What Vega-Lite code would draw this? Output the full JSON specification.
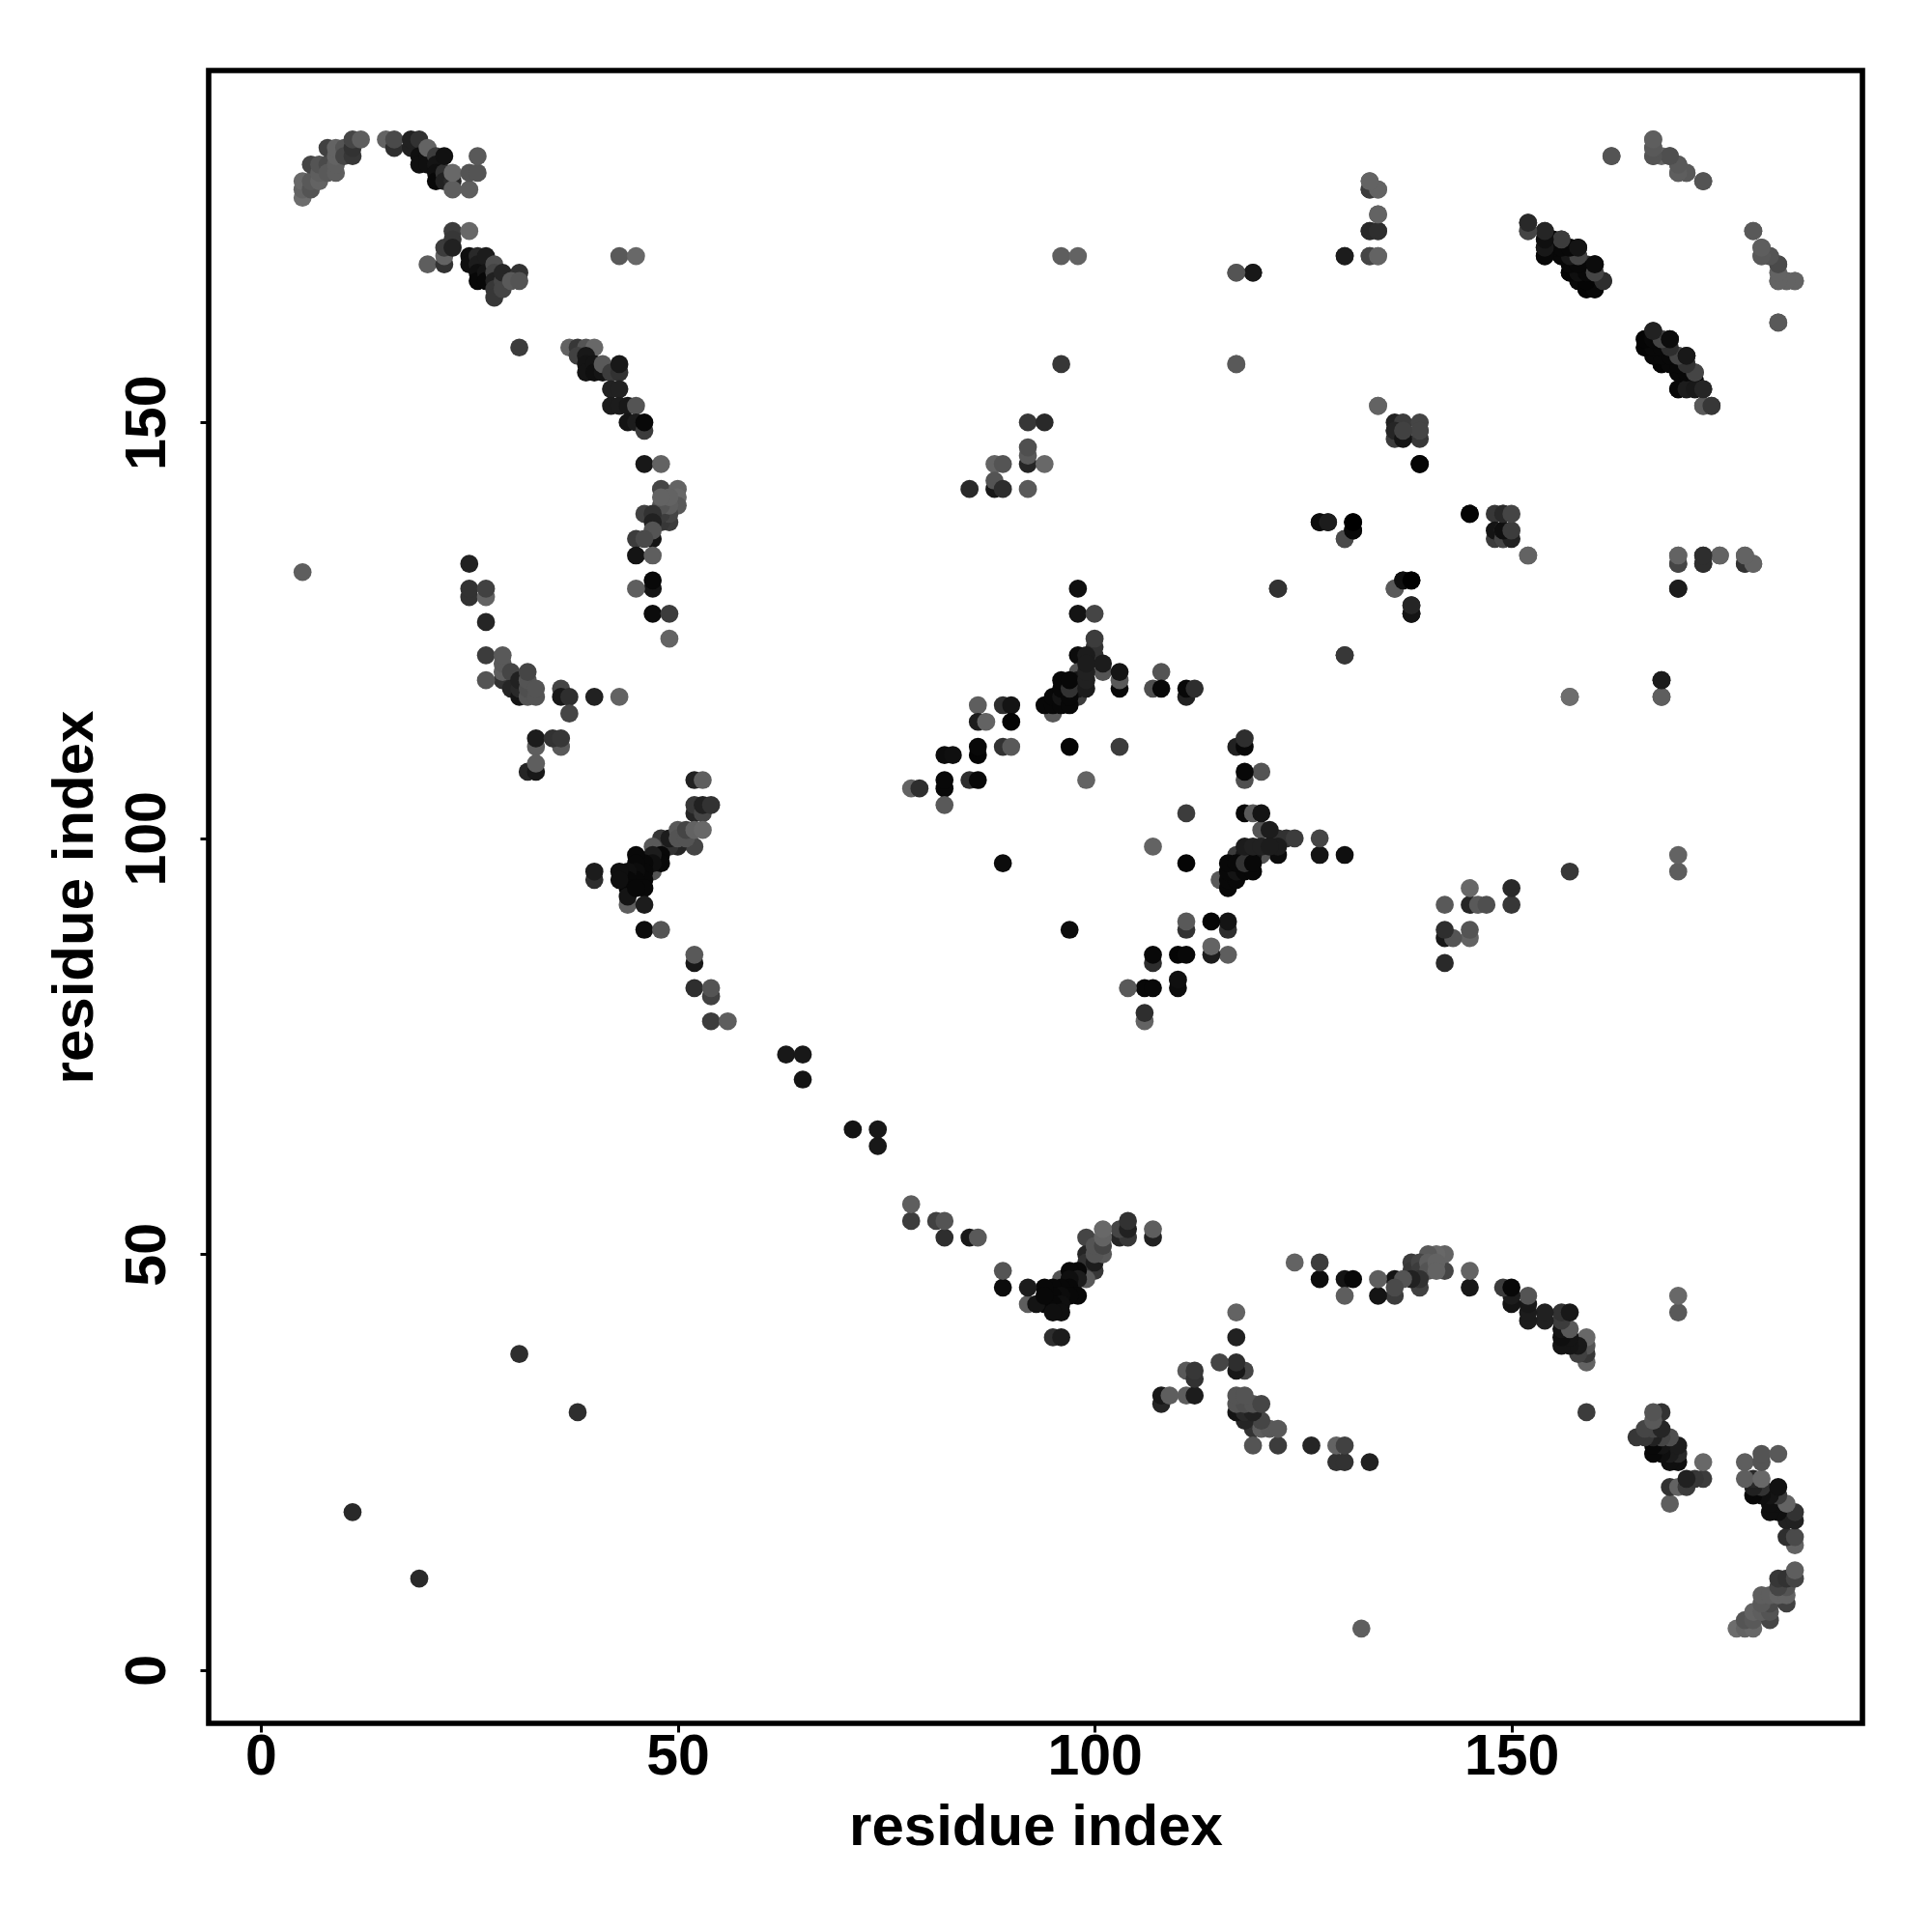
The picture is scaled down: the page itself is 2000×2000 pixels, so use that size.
{"$schema":"https://vega.github.io/schema/vega-lite/v6.json","width":1712,"height":1711,"autosize":{"type":"none"},"padding":{"left":216,"top":73,"right":72,"bottom":216},"background":"white","config":{"view":{"stroke":"black","strokeWidth":5.6},"axis":{"grid":false,"domain":false,"tickColor":"black","tickWidth":3,"tickSize":9,"labelFont":"Liberation Sans","labelFontWeight":"bold","labelFontSize":59,"labelColor":"black","titleFont":"Liberation Sans","titleFontWeight":"bold","titleFontSize":60,"titleColor":"black"}},
"data":{"values":[
{"i":5,"j":177,"s":110},{"i":5,"j":178,"s":100},{"i":5,"j":179,"s":105},{"i":6,"j":178,"s":85},{"i":6,"j":179,"s":90},{"i":6,"j":181,"s":70},{"i":7,"j":179,"s":100},{"i":7,"j":180,"s":95},{"i":7,"j":181,"s":85},{"i":8,"j":181,"s":75},{"i":8,"j":180,"s":90},{"i":8,"j":183,"s":65},{"i":9,"j":180,"s":95},{"i":9,"j":181,"s":95},{"i":9,"j":182,"s":100},{"i":9,"j":183,"s":100},{"i":10,"j":183,"s":85},{"i":10,"j":182,"s":70},{"i":11,"j":182,"s":55},{"i":11,"j":183,"s":50},{"i":11,"j":184,"s":70},{"i":12,"j":184,"s":95},
{"i":15,"j":184,"s":100},{"i":16,"j":183,"s":45},{"i":16,"j":184,"s":75},{"i":18,"j":183,"s":30},{"i":18,"j":184,"s":30},{"i":19,"j":184,"s":50},{"i":19,"j":182,"s":10},{"i":19,"j":181,"s":10},{"i":20,"j":182,"s":10},{"i":20,"j":181,"s":10},{"i":20,"j":183,"s":100},{"i":21,"j":182,"s":60},{"i":21,"j":181,"s":15},{"i":21,"j":180,"s":10},{"i":21,"j":179,"s":5},{"i":22,"j":180,"s":50},{"i":22,"j":179,"s":30},{"i":22,"j":182,"s":12},{"i":23,"j":179,"s":40},{"i":23,"j":178,"s":95},{"i":23,"j":180,"s":105},{"i":25,"j":178,"s":95},{"i":25,"j":180,"s":85},{"i":26,"j":180,"s":85},{"i":26,"j":182,"s":90},
{"i":20,"j":169,"s":95},{"i":22,"j":169,"s":50},{"i":22,"j":170,"s":100},{"i":22,"j":171,"s":60},{"i":23,"j":173,"s":60},{"i":23,"j":172,"s":55},{"i":23,"j":171,"s":30},{"i":25,"j":173,"s":105},{"i":25,"j":170,"s":10},{"i":25,"j":169,"s":10},{"i":26,"j":170,"s":40},{"i":26,"j":169,"s":25},{"i":26,"j":168,"s":10},{"i":26,"j":167,"s":5},{"i":27,"j":170,"s":25},{"i":27,"j":168,"s":15},{"i":27,"j":167,"s":5},{"i":28,"j":169,"s":80},{"i":28,"j":168,"s":70},{"i":28,"j":167,"s":30},{"i":28,"j":166,"s":55},{"i":28,"j":165,"s":55},{"i":29,"j":167,"s":70},{"i":29,"j":166,"s":70},{"i":29,"j":168,"s":35},{"i":31,"j":168,"s":50},{"i":30,"j":167,"s":90},{"i":31,"j":167,"s":85},
{"i":31,"j":159,"s":60},{"i":43,"j":170,"s":90},{"i":45,"j":170,"s":105},{"i":5,"j":132,"s":95},{"i":11,"j":19,"s":40},{"i":31,"j":38,"s":45},
{"i":37,"j":159,"s":100},{"i":38,"j":159,"s":55},{"i":39,"j":159,"s":85},{"i":40,"j":159,"s":105},{"i":38,"j":158,"s":65},{"i":39,"j":158,"s":20},{"i":39,"j":157,"s":15},{"i":39,"j":156,"s":15},{"i":40,"j":157,"s":15},{"i":40,"j":156,"s":10},{"i":41,"j":156,"s":15},{"i":41,"j":157,"s":90},{"i":42,"j":156,"s":60},{"i":43,"j":156,"s":50},{"i":43,"j":157,"s":20},{"i":42,"j":154,"s":30},{"i":43,"j":154,"s":30},{"i":42,"j":152,"s":25},{"i":43,"j":152,"s":25},{"i":44,"j":152,"s":20},{"i":45,"j":152,"s":85},{"i":44,"j":150,"s":15},{"i":45,"j":150,"s":25},{"i":46,"j":149,"s":60},{"i":46,"j":150,"s":5},{"i":46,"j":145,"s":20},{"i":48,"j":145,"s":100},
{"i":48,"j":142,"s":70},{"i":50,"j":142,"s":100},{"i":50,"j":141,"s":105},{"i":50,"j":140,"s":90},{"i":49,"j":138,"s":60},{"i":48,"j":138,"s":55},{"i":49,"j":139,"s":70},{"i":48,"j":139,"s":60},{"i":49,"j":140,"s":95},{"i":48,"j":140,"s":85},{"i":49,"j":141,"s":100},{"i":48,"j":141,"s":100},{"i":46,"j":139,"s":65},{"i":47,"j":139,"s":50},{"i":47,"j":138,"s":30},{"i":47,"j":136,"s":15},{"i":47,"j":137,"s":85},{"i":45,"j":136,"s":60},{"i":46,"j":136,"s":75},{"i":45,"j":134,"s":15},{"i":47,"j":134,"s":95},{"i":47,"j":130,"s":15},{"i":47,"j":131,"s":5},{"i":45,"j":130,"s":95},{"i":47,"j":127,"s":8},{"i":49,"j":127,"s":60},{"i":49,"j":124,"s":100},
{"i":25,"j":133,"s":30},{"i":25,"j":129,"s":50},{"i":25,"j":130,"s":50},{"i":27,"j":129,"s":100},{"i":27,"j":130,"s":65},{"i":27,"j":126,"s":35},{"i":27,"j":122,"s":60},{"i":29,"j":119,"s":50},{"i":29,"j":120,"s":95},{"i":29,"j":121,"s":90},{"i":29,"j":122,"s":90},{"i":30,"j":120,"s":70},{"i":27,"j":119,"s":85},{"i":30,"j":118,"s":35},{"i":31,"j":117,"s":15},{"i":31,"j":118,"s":40},{"i":31,"j":119,"s":30},{"i":32,"j":117,"s":85},{"i":32,"j":118,"s":80},{"i":32,"j":119,"s":85},{"i":32,"j":120,"s":70},{"i":33,"j":117,"s":85},{"i":33,"j":118,"s":85},{"i":36,"j":118,"s":70},{"i":36,"j":117,"s":20},{"i":37,"j":117,"s":45},{"i":37,"j":115,"s":70},{"i":40,"j":117,"s":30},{"i":43,"j":117,"s":100},
{"i":33,"j":111,"s":95},{"i":36,"j":111,"s":90},{"i":33,"j":112,"s":25},{"i":35,"j":112,"s":50},{"i":36,"j":112,"s":55},{"i":32,"j":108,"s":35},{"i":33,"j":108,"s":20},{"i":33,"j":109,"s":95},
{"i":52,"j":107,"s":30},{"i":53,"j":107,"s":95},{"i":52,"j":103,"s":35},{"i":52,"j":104,"s":55},{"i":53,"j":103,"s":70},{"i":53,"j":104,"s":30},{"i":54,"j":104,"s":50},{"i":52,"j":99,"s":70},{"i":50,"j":99,"s":35},{"i":49,"j":99,"s":50},{"i":48,"j":100,"s":55},{"i":49,"j":100,"s":25},{"i":50,"j":101,"s":90},{"i":50,"j":100,"s":85},{"i":51,"j":100,"s":85},{"i":51,"j":101,"s":70},{"i":52,"j":101,"s":100},{"i":53,"j":101,"s":105},
{"i":47,"j":99,"s":90},{"i":47,"j":96,"s":85},{"i":48,"j":98,"s":5},{"i":48,"j":97,"s":5},{"i":47,"j":98,"s":25},{"i":47,"j":97,"s":10},{"i":46,"j":97,"s":5},{"i":46,"j":96,"s":5},{"i":46,"j":95,"s":5},{"i":45,"j":98,"s":5},{"i":45,"j":97,"s":5},{"i":45,"j":96,"s":8},{"i":45,"j":95,"s":5},{"i":44,"j":92,"s":95},{"i":44,"j":96,"s":10},{"i":44,"j":95,"s":5},{"i":44,"j":94,"s":5},{"i":43,"j":96,"s":10},{"i":43,"j":95,"s":10},{"i":44,"j":93,"s":15},{"i":46,"j":94,"s":5},{"i":45,"j":94,"s":5},{"i":46,"j":92,"s":25},{"i":40,"j":95,"s":45},{"i":40,"j":96,"s":25},{"i":46,"j":89,"s":8},{"i":48,"j":89,"s":85},{"i":52,"j":85,"s":20},{"i":52,"j":86,"s":90},{"i":52,"j":82,"s":45},{"i":54,"j":81,"s":65},{"i":54,"j":82,"s":85},{"i":54,"j":78,"s":60},{"i":56,"j":78,"s":95},
{"i":63,"j":74,"s":20},{"i":65,"j":74,"s":20},{"i":65,"j":71,"s":15},
{"i":96,"j":170,"s":95},{"i":98,"j":170,"s":100},{"i":96,"j":157,"s":55},{"i":117,"j":168,"s":95},{"i":119,"j":168,"s":25},{"i":117,"j":157,"s":110},{"i":130,"j":170,"s":25},
{"i":92,"j":150,"s":55},{"i":94,"j":150,"s":40},{"i":92,"j":145,"s":35},{"i":92,"j":146,"s":90},{"i":92,"j":147,"s":80},{"i":94,"j":145,"s":105},{"i":88,"j":145,"s":100},{"i":89,"j":145,"s":85},{"i":88,"j":142,"s":20},{"i":88,"j":143,"s":85},{"i":89,"j":142,"s":45},{"i":85,"j":142,"s":40},{"i":92,"j":142,"s":90},
{"i":127,"j":138,"s":15},{"i":128,"j":138,"s":35},{"i":130,"j":136,"s":90},{"i":131,"j":137,"s":10},{"i":131,"j":138,"s":0},{"i":122,"j":130,"s":55},{"i":130,"j":122,"s":50},
{"i":98,"j":130,"s":10},{"i":98,"j":127,"s":15},{"i":100,"j":127,"s":70},{"i":100,"j":122,"s":50},{"i":100,"j":123,"s":50},{"i":100,"j":124,"s":60},{"i":98,"j":122,"s":8},{"i":99,"j":122,"s":25},{"i":101,"j":120,"s":85},{"i":101,"j":121,"s":25},{"i":103,"j":118,"s":5},{"i":103,"j":119,"s":90},{"i":103,"j":120,"s":15},{"i":98,"j":120,"s":85},{"i":95,"j":115,"s":90},{"i":98,"j":117,"s":60},{"i":98,"j":118,"s":20},{"i":98,"j":119,"s":20},{"i":94,"j":116,"s":5},{"i":95,"j":116,"s":5},{"i":95,"j":117,"s":5},{"i":96,"j":116,"s":5},{"i":96,"j":117,"s":15},{"i":96,"j":118,"s":5},{"i":96,"j":119,"s":5},{"i":97,"j":116,"s":5},{"i":97,"j":117,"s":5},{"i":97,"j":118,"s":50},{"i":97,"j":119,"s":5},{"i":99,"j":118,"s":25},{"i":99,"j":119,"s":30},{"i":99,"j":120,"s":30},{"i":99,"j":121,"s":25},
{"i":108,"j":120,"s":85},{"i":107,"j":118,"s":80},{"i":108,"j":118,"s":5},{"i":111,"j":117,"s":30},{"i":111,"j":118,"s":5},{"i":112,"j":118,"s":45},{"i":86,"j":116,"s":95},{"i":89,"j":116,"s":45},{"i":90,"j":116,"s":15},{"i":86,"j":114,"s":25},{"i":87,"j":114,"s":100},{"i":90,"j":114,"s":3},{"i":86,"j":110,"s":3},{"i":86,"j":111,"s":5},{"i":89,"j":111,"s":50},{"i":90,"j":111,"s":90},{"i":82,"j":110,"s":8},{"i":83,"j":110,"s":10},{"i":82,"j":106,"s":5},{"i":82,"j":107,"s":5},{"i":82,"j":104,"s":90},{"i":85,"j":107,"s":45},{"i":86,"j":107,"s":5},{"i":78,"j":106,"s":100},{"i":79,"j":106,"s":45},{"i":97,"j":111,"s":3},{"i":103,"j":111,"s":60},{"i":99,"j":107,"s":100},{"i":89,"j":97,"s":8},
{"i":133,"j":178,"s":50},{"i":133,"j":179,"s":100},{"i":134,"j":178,"s":100},{"i":134,"j":175,"s":100},{"i":133,"j":173,"s":45},{"i":134,"j":173,"s":45},{"i":133,"j":170,"s":70},{"i":134,"j":170,"s":100},
{"i":162,"j":182,"s":90},{"i":167,"j":184,"s":100},{"i":167,"j":183,"s":100},{"i":167,"j":182,"s":100},{"i":168,"j":182,"s":100},{"i":169,"j":182,"s":75},{"i":170,"j":181,"s":85},{"i":170,"j":180,"s":90},{"i":171,"j":180,"s":95},{"i":173,"j":179,"s":90},{"i":179,"j":173,"s":85},{"i":180,"j":171,"s":90},{"i":180,"j":170,"s":95},{"i":181,"j":170,"s":90},{"i":182,"j":169,"s":80},{"i":182,"j":167,"s":85},{"i":183,"j":167,"s":90},{"i":184,"j":167,"s":95},{"i":182,"j":162,"s":85},
{"i":152,"j":173,"s":90},{"i":152,"j":174,"s":55},{"i":154,"j":170,"s":5},{"i":154,"j":171,"s":25},{"i":154,"j":172,"s":20},{"i":154,"j":173,"s":35},{"i":156,"j":170,"s":5},{"i":156,"j":171,"s":5},{"i":156,"j":172,"s":70},{"i":157,"j":168,"s":3},{"i":157,"j":169,"s":5},{"i":157,"j":170,"s":5},{"i":157,"j":171,"s":50},{"i":158,"j":167,"s":5},{"i":158,"j":168,"s":5},{"i":158,"j":169,"s":5},{"i":158,"j":170,"s":70},{"i":158,"j":171,"s":20},{"i":159,"j":166,"s":3},{"i":159,"j":167,"s":5},{"i":159,"j":168,"s":5},{"i":159,"j":169,"s":45},{"i":160,"j":166,"s":3},{"i":160,"j":167,"s":5},{"i":160,"j":168,"s":70},{"i":160,"j":169,"s":8},{"i":161,"j":167,"s":30},
{"i":166,"j":159,"s":3},{"i":166,"j":160,"s":5},{"i":167,"j":159,"s":3},{"i":167,"j":161,"s":45},{"i":168,"j":157,"s":3},{"i":168,"j":158,"s":10},{"i":168,"j":159,"s":5},{"i":168,"j":160,"s":70},{"i":169,"j":157,"s":5},{"i":169,"j":158,"s":5},{"i":169,"j":160,"s":8},{"i":170,"j":156,"s":5},{"i":170,"j":157,"s":20},{"i":170,"j":158,"s":70},{"i":171,"j":155,"s":5},{"i":171,"j":156,"s":5},{"i":171,"j":157,"s":5},{"i":171,"j":158,"s":15},{"i":172,"j":155,"s":5},{"i":172,"j":156,"s":60},{"i":170,"j":154,"s":5},{"i":171,"j":154,"s":20},{"i":172,"j":154,"s":10},{"i":173,"j":154,"s":35},{"i":173,"j":152,"s":70},{"i":174,"j":152,"s":40},
{"i":134,"j":152,"s":100},{"i":136,"j":149,"s":70},{"i":136,"j":150,"s":30},{"i":137,"j":149,"s":10},{"i":137,"j":150,"s":60},{"i":139,"j":149,"s":40},{"i":139,"j":150,"s":70},{"i":139,"j":145,"s":3},{"i":145,"j":139,"s":3},{"i":148,"j":139,"s":55},{"i":149,"j":139,"s":70},{"i":148,"j":136,"s":60},{"i":149,"j":136,"s":35},{"i":148,"j":137,"s":15},{"i":149,"j":137,"s":65},{"i":152,"j":134,"s":100},{"i":136,"j":130,"s":75},{"i":137,"j":131,"s":5},{"i":138,"j":131,"s":0},{"i":138,"j":127,"s":8},{"i":138,"j":128,"s":25},
{"i":170,"j":133,"s":70},{"i":170,"j":134,"s":100},{"i":173,"j":133,"s":40},{"i":173,"j":134,"s":45},{"i":175,"j":134,"s":100},{"i":178,"j":133,"s":60},{"i":178,"j":134,"s":100},{"i":179,"j":133,"s":100},{"i":170,"j":130,"s":25},{"i":168,"j":119,"s":20},{"i":168,"j":117,"s":85},{"i":157,"j":117,"s":90}
]},
"layer":[
{"mark":{"type":"circle","size":350,"opacity":1},"encoding":{"x":{"field":"i","type":"quantitative","scale":{"domain":[-6.26,192.1],"nice":false,"zero":false},"axis":{"values":[0,50,100,150],"title":"residue index","labelPadding":-4,"titlePadding":14,"labelFlush":false}},"y":{"field":"j","type":"quantitative","scale":{"domain":[-6.4,192.3],"nice":false,"zero":false},"axis":{"values":[0,50,100,150],"title":"residue index","labelAngle":-90,"labelAlign":"center","labelBaseline":"alphabetic","labelPadding":37,"titlePadding":15,"labelFlush":false}},"color":{"field":"s","type":"quantitative","scale":{"domain":[0,120],"range":["#000000","#787878"]},"legend":null}}},
{"mark":{"type":"circle","size":350,"opacity":1},"encoding":{"x":{"field":"j","type":"quantitative"},"y":{"field":"i","type":"quantitative"},"color":{"field":"s","type":"quantitative","legend":null}}}
]}
